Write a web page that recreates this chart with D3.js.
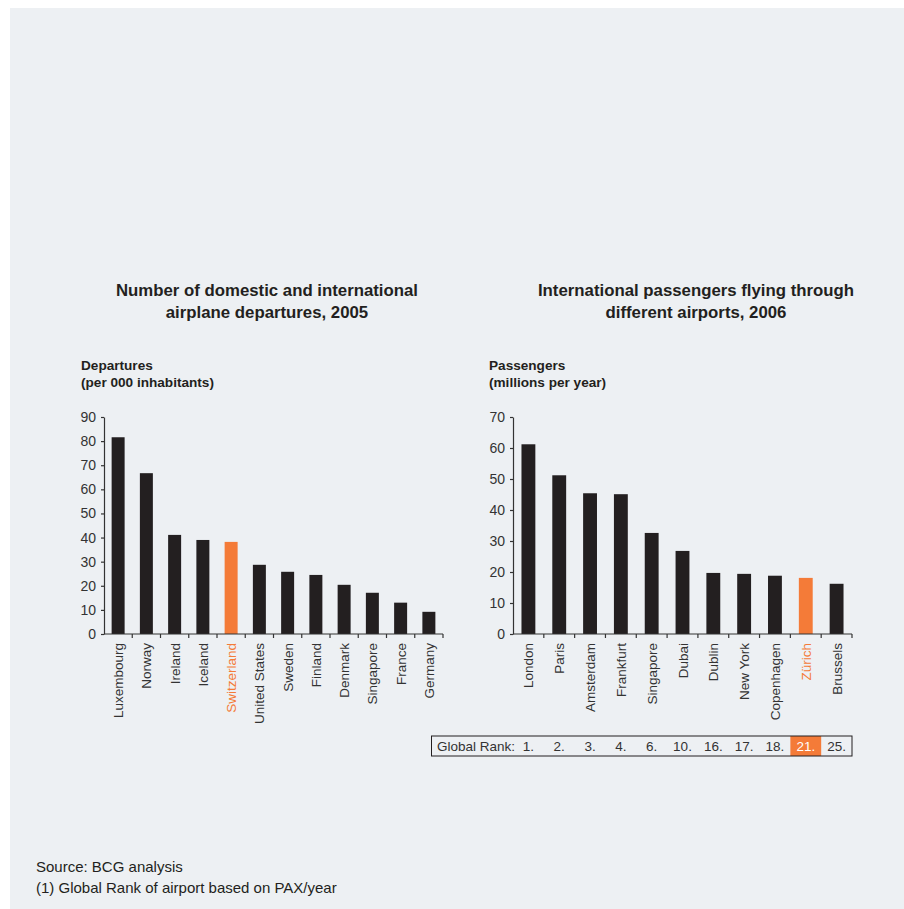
<!DOCTYPE html>
<html>
<head>
<meta charset="utf-8">
<script src="https://cdn.jsdelivr.net/npm/d3@7"></script>
<style>
  html, body { margin: 0; padding: 0; background: #ffffff; }
  svg { display: block; }
  text { font-family: "Liberation Sans", Arial, sans-serif; }
</style>
</head>
<body>
<svg id="chart" width="904" height="909"></svg>
<script>
// Departures per 000 inhabitants, 2005
const countries = ["Luxembourg", "Norway", "Ireland", "Iceland", "Switzerland", "United States",
                   "Sweden", "Finland", "Denmark", "Singapore", "France", "Germany"];
const departures = [81.6, 66.7, 41.1, 39.0, 38.2, 28.7, 25.8, 24.5, 20.4, 17.1, 13.0, 9.2];
const departureTicks = [0, 10, 20, 30, 40, 50, 60, 70, 80, 90];

// International passengers, millions per year, 2006
const airports = ["London", "Paris", "Amsterdam", "Frankfurt", "Singapore", "Dubai",
                  "Dublin", "New York", "Copenhagen", "Zürich", "Brussels"];
const passengers = [61.2, 51.2, 45.4, 45.1, 32.6, 26.8, 19.7, 19.4, 18.8, 18.1, 16.2];
const globalRanks = ["1.", "2.", "3.", "4.", "6.", "10.", "16.", "17.", "18.", "21.", "25."];
const passengerTicks = [0, 10, 20, 30, 40, 50, 60, 70];

const highlightCountry = "Switzerland";
const highlightAirport = "Zürich";

const DARK = "#231f20";
const ORANGE = "#f47b38";
const TEXT = "#333333";

const svg = d3.select("#chart");

// panel background
svg.append("rect").attr("x", 10).attr("y", 8).attr("width", 894).attr("height", 901)
  .attr("fill", "#edf0f3");

function barChart(opts) {
  const g = svg.append("g");
  const x = d3.scaleBand().domain(opts.cats).range([opts.x0, opts.x1])
    .paddingInner(opts.pad).paddingOuter(opts.pad / 2);
  const y = d3.scaleLinear().domain([0, opts.max]).range([opts.y0, opts.y1]);

  // title
  const t = g.append("text").attr("text-anchor", "middle")
    .attr("font-weight", "bold").attr("font-size", 16.8).attr("fill", "#231f20");
  opts.title.forEach((line, i) => {
    t.append("tspan").attr("x", opts.titleX).attr("y", 296 + i * 22).text(line);
  });

  // axis label
  const a = g.append("text").attr("font-weight", "bold").attr("font-size", 13.6)
    .attr("fill", "#231f20");
  opts.axisLabel.forEach((line, i) => {
    a.append("tspan").attr("x", opts.labelX).attr("y", 370 + i * 17).text(line);
  });

  // bars
  g.selectAll("rect.bar").data(opts.cats).join("rect")
    .attr("class", "bar")
    .attr("x", d => x(d))
    .attr("width", x.bandwidth())
    .attr("y", (d, i) => y(opts.vals[i]))
    .attr("height", (d, i) => y(0) - y(opts.vals[i]))
    .attr("fill", d => d === opts.highlight ? ORANGE : DARK);

  // y axis
  const yAxis = g.append("g").attr("transform", `translate(${opts.x0},0)`)
    .call(d3.axisLeft(y).tickValues(opts.ticks).tickSize(3).tickPadding(5).tickSizeOuter(0));
  yAxis.select(".domain").attr("stroke", TEXT).attr("stroke-width", 1.2);
  yAxis.selectAll(".tick line").attr("stroke", TEXT).attr("stroke-width", 1.2);
  yAxis.selectAll(".tick text").attr("font-size", 14).attr("fill", TEXT)
    .attr("font-family", "Liberation Sans, Arial, sans-serif");

  // x axis: ticks sit on category boundaries
  const xg = g.append("g").attr("transform", `translate(0,${opts.y0})`);
  xg.append("line").attr("x1", opts.x0).attr("x2", opts.x1).attr("y1", 0).attr("y2", 0)
    .attr("stroke", TEXT).attr("stroke-width", 1.2);
  const bounds = opts.cats.map(d => x(d) - x.step() * x.paddingInner() / 2).concat([opts.x1]);
  xg.selectAll("line.tk").data(bounds.slice(1)).join("line").attr("class", "tk")
    .attr("x1", d => d).attr("x2", d => d).attr("y1", 0).attr("y2", 4)
    .attr("stroke", TEXT).attr("stroke-width", 1.2);
  xg.selectAll("text").data(opts.cats).join("text")
    .attr("transform", d => `translate(${x(d) + x.bandwidth() / 2 + 5},9) rotate(-90)`)
    .attr("text-anchor", "end").attr("font-size", 13.5)
    .attr("fill", d => d === opts.highlight ? ORANGE : TEXT)
    .text(d => d);

  return { x, y, g };
}

barChart({
  cats: countries, vals: departures, ticks: departureTicks, max: 90,
  x0: 104, x1: 443, y0: 634, y1: 417, pad: 0.54,
  title: ["Number of domestic and international", "airplane departures, 2005"], titleX: 267,
  axisLabel: ["Departures", "(per 000 inhabitants)"], labelX: 81,
  highlight: highlightCountry
});

const right = barChart({
  cats: airports, vals: passengers, ticks: passengerTicks, max: 70,
  x0: 513, x1: 852, y0: 634, y1: 417, pad: 0.55,
  title: ["International passengers flying through", "different airports, 2006"], titleX: 696,
  axisLabel: ["Passengers", "(millions per year)"], labelX: 489,
  highlight: highlightAirport
});

// global rank strip beneath the airport chart
const rx = right.x;
const rank = svg.append("g");
const boxTop = 736, boxH = 20;
rank.selectAll("rect.hl").data(airports.filter(d => d === highlightAirport)).join("rect")
  .attr("class", "hl")
  .attr("x", d => rx(d) - rx.step() * rx.paddingInner() / 2)
  .attr("width", rx.step()).attr("y", boxTop).attr("height", boxH).attr("fill", ORANGE);
rank.append("rect").attr("x", 431.5).attr("y", boxTop).attr("width", 852 - 431.5).attr("height", boxH)
  .attr("fill", "none").attr("stroke", "#231f20").attr("stroke-width", 1);
rank.append("text").attr("x", 437).attr("y", boxTop + 15).attr("font-size", 13.5)
  .attr("fill", TEXT).text("Global Rank:");
rank.selectAll("text.rk").data(airports).join("text").attr("class", "rk")
  .attr("x", d => rx(d) + rx.bandwidth() / 2).attr("y", boxTop + 15)
  .attr("text-anchor", "middle").attr("font-size", 13.5)
  .attr("fill", d => d === highlightAirport ? "#ffffff" : TEXT)
  .text((d, i) => globalRanks[i]);

// notes
const notes = svg.append("text").attr("font-size", 15).attr("fill", "#231f20");
["Source: BCG analysis", "(1) Global Rank of airport based on PAX/year"].forEach((line, i) => {
  notes.append("tspan").attr("x", 36).attr("y", 872 + i * 21).text(line);
});
</script>
</body>
</html>
